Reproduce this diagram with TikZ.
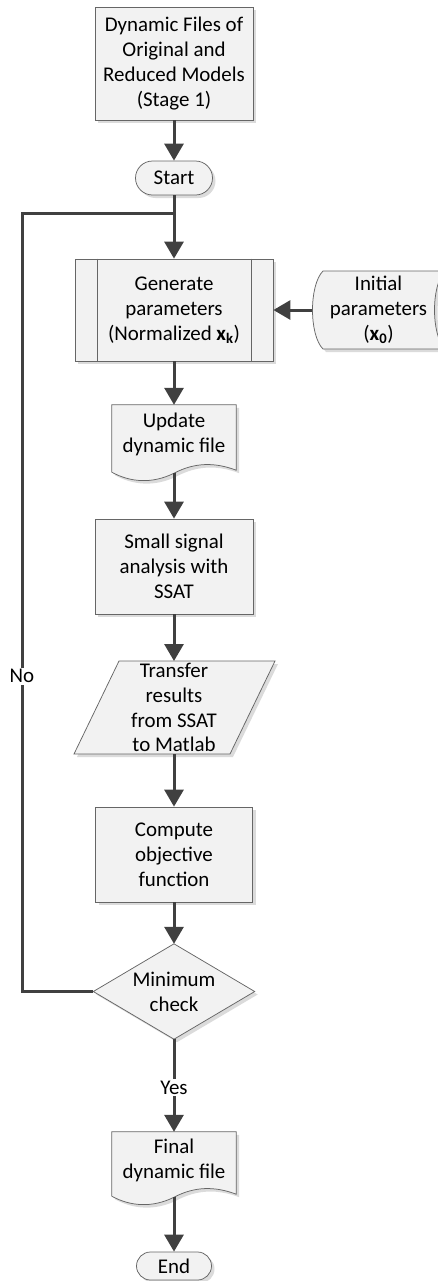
\documentclass[tikz,border=0pt]{standalone}
\usepackage{fontspec}
\setmainfont{Carlito}
\usetikzlibrary{arrows.meta,shadows,shapes.misc,calc,backgrounds}

\tikzset{
  shadowed/.style={drop shadow={shadow xshift=3bp,shadow yshift=-3bp,fill=black!14,opacity=1}},
  boxshape/.style={draw=black!60,line width=0.75bp,fill=black!5,shadowed},
  procbox/.style={boxshape,rectangle,align=center,inner sep=0pt},
  holder/.style={rectangle,align=center,inner sep=0pt},
  termbox/.style={boxshape,rounded rectangle,inner sep=0pt},
  flow/.style={draw=black!75,line width=3bp},
  flowarrow/.style={flow,-{Triangle[length=17bp,width=19bp]}},
  lbl/.style={fill=white,inner sep=1.5bp},
}

% document symbol: flat top, wavy bottom below the node's south edge
\newcommand\docoutline[1]{%
  \path[boxshape] (#1.north west) -- (#1.north east) -- ($(#1.south east)+(0,6)$)
    .. controls ($(#1.south)+(41,-2)$) and ($(#1.south)+(21,-2)$) .. ($(#1.south)+(0,9)$)
    .. controls ($(#1.south)+(-22,20)$) and ($(#1.south)+(-44,18)$) .. ($(#1.south west)+(0,8)$)
    -- cycle;}

\begin{document}
\begin{tikzpicture}[x=1bp,y=-1bp,font=\fontsize{21}{25}\selectfont]
\useasboundingbox (0,0) rectangle (438,1281);
\clip (0,0) rectangle (438,1281);

% ---- nodes ----
\node[procbox,minimum width=158bp,minimum height=113bp] (dyn) at (174,63.5)
  {Dynamic Files of\\Original and\\Reduced Models\\(Stage 1)};
\node[termbox,minimum width=77bp,minimum height=34bp] (start) at (174,178) {Start};
\node[procbox,minimum width=198bp,minimum height=102bp] (gen) at (174,310)
  {Generate\\parameters\\(Normalized \textbf{x}\textsubscript{\textbf{k}})};
\draw[draw=black!60,line width=0.75bp]
  ([xshift=23bp]gen.north west) -- ([xshift=23bp]gen.south west)
  ([xshift=-22bp]gen.north east) -- ([xshift=-22bp]gen.south east);
\node[holder,minimum width=133bp,minimum height=78bp] (init) at (378.5,310)
  {Initial\\parameters\\(\textbf{x}\textsubscript{\textbf{0}})};
\node[holder,minimum width=124bp,minimum height=59bp] (upd) at (174,434.5)
  {Update\\dynamic file};
\node[procbox,minimum width=158bp,minimum height=95bp] (ssa) at (174,566.5)
  {Small signal\\analysis with\\SSAT};
\node[holder,minimum width=150bp,minimum height=80bp] (xfer) at (174,707.5)
  {Transfer\\results\\from SSAT\\to Matlab};
\node[procbox,minimum width=157bp,minimum height=95bp] (obj) at (174,854.5)
  {Compute\\objective\\function};
\node[holder,minimum width=161bp,minimum height=95bp] (chk) at (174,991.5)
  {Minimum\\check};
\node[holder,minimum width=124bp,minimum height=56bp] (fin) at (174,1160)
  {Final\\dynamic file};
\node[termbox,minimum width=75bp,minimum height=28bp] (stop) at (174,1266) {End};

% ---- helper coordinates ----
\coordinate (junc) at (174,213);
\coordinate (loopa) at (22,213);
\coordinate (loopb) at (22,991.5);
\coordinate (updb) at ($(upd.south)+(0,9)$);
\coordinate (finb) at ($(fin.south)+(0,9)$);
\coordinate (xtop) at ($(xfer.center)+(0,-46.5)$);
\coordinate (xbot) at ($(xfer.center)+(0,46.5)$);

% ---- outlines of non-rectangular symbols ----
\begin{scope}[on background layer]
  % stored data
  \path[boxshape] ($(init.center)+(-55.5,-39)$) -- ($(init.center)+(66.5,-39)$)
    .. controls ($(init.center)+(52.5,-25)$) and ($(init.center)+(52.5,25)$) .. ($(init.center)+(66.5,39)$)
    -- ($(init.center)+(-55.5,39)$)
    .. controls ($(init.center)+(-69.5,25)$) and ($(init.center)+(-69.5,-25)$) .. ($(init.center)+(-55.5,-39)$)
    -- cycle;
  \docoutline{upd}
  \docoutline{fin}
  % data (parallelogram)
  \path[boxshape] ($(xfer.center)+(-55,-46.5)$) -- ($(xfer.center)+(101,-46.5)$)
    -- ($(xfer.center)+(56,46.5)$) -- ($(xfer.center)+(-100,46.5)$) -- cycle;
  % decision
  \path[boxshape] (chk.north) -- (chk.east) -- (chk.south) -- (chk.west) -- cycle;
\end{scope}

% ---- connectors ----
\draw[flowarrow] (dyn.south) -- (start.north);
\draw[flow] (start.south) -- (junc);
\draw[flowarrow] (junc) -- (gen.north);
\draw[flowarrow] (init.west) -- (gen.east);
\draw[flowarrow] (gen.south) -- (upd.north);
\draw[flowarrow] (updb) -- (ssa.north);
\draw[flowarrow] (ssa.south) -- (xtop);
\draw[flowarrow] (xbot) -- (obj.north);
\draw[flowarrow] (obj.south) -- (chk.north);
\draw[flow] (chk.west) -- (loopb) -- node[lbl,pos=0.405]{No} (loopa) -- (junc);
\draw[flowarrow] (chk.south) -- node[lbl,pos=0.52]{Yes} (fin.north);
\draw[flowarrow] (finb) -- (stop.north);
\end{tikzpicture}
\end{document}
